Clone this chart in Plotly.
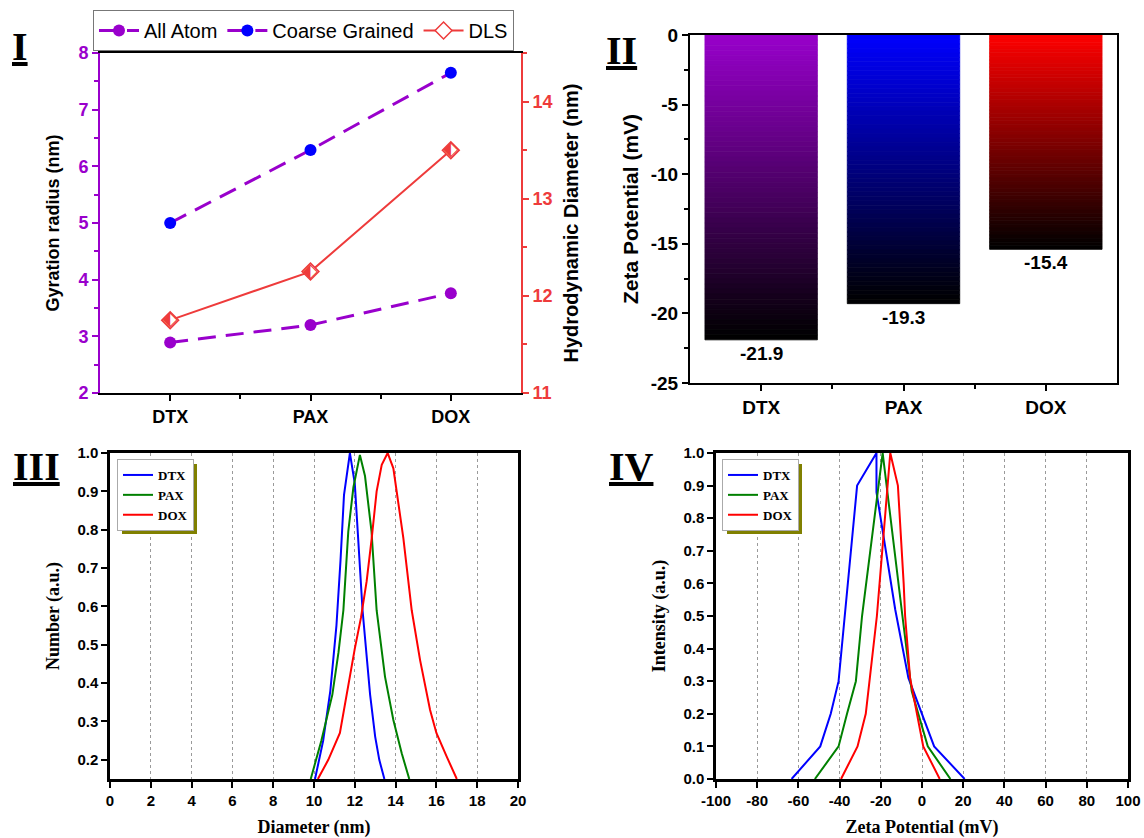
import plotly.graph_objects as go

W, H = 1144, 838
SANS = "Liberation Sans, Arial, sans-serif"
SERIF = "Liberation Serif, Times New Roman, serif"
PURPLE = "#9900CC"
BLUE = "#0000FF"
RED_DLS = "#EE3B3B"

# ---------------- data ----------------
categories = ["DTX", "PAX", "DOX"]
gyration_all_atom = [2.89, 3.20, 3.76]
gyration_coarse = [5.00, 6.29, 7.65]
dls_diameter = [11.75, 12.25, 13.50]
zeta_potential = [-21.9, -19.3, -15.4]
bar_top_colors = [(153, 0, 204), (0, 0, 255), (255, 0, 0)]

# Panel III: number distribution vs diameter
dia_dtx_x = [10.05, 10.45, 10.8, 11.1, 11.3, 11.47, 11.76, 12.0, 12.38, 12.75, 13.0, 13.2, 13.45]
dia_dtx_y = [0.15, 0.25, 0.38, 0.55, 0.72, 0.89, 1.0, 0.92, 0.59, 0.37, 0.26, 0.2, 0.15]
dia_pax_x = [9.84, 10.36, 10.9, 11.2, 11.44, 11.68, 11.93, 12.25, 12.5, 12.82, 13.07, 13.48, 13.89, 14.3, 14.67]
dia_pax_y = [0.15, 0.25, 0.37, 0.48, 0.59, 0.795, 0.91, 0.995, 0.94, 0.795, 0.59, 0.417, 0.304, 0.217, 0.15]
dia_dox_x = [10.19, 10.7, 11.27, 11.6, 12.0, 12.3, 12.58, 12.83, 13.07, 13.32, 13.61, 13.89, 14.05,
             14.38, 14.79, 15.2, 15.69, 16.0, 16.5, 17.0]
dia_dox_y = [0.15, 0.2, 0.27, 0.373, 0.49, 0.57, 0.665, 0.778, 0.9, 0.969, 1.0, 0.96, 0.9,
             0.778, 0.59, 0.46, 0.33, 0.27, 0.209, 0.15]

# Panel IV: intensity vs zeta potential
zp_dtx_x = [-63.3, -49.4, -44.3, -40.5, -31.5, -22.1, -22.1, -13.0, -6.6, 0.0, 5.9, 20.7]
zp_dtx_y = [0.0, 0.1, 0.2, 0.3, 0.9, 1.0, 0.88, 0.52, 0.31, 0.2, 0.1, 0.0]
zp_pax_x = [-52.0, -40.5, -36.4, -32.1, -29.1, -19.1, -9.5, -5.0, 2.8, 13.8]
zp_pax_y = [0.0, 0.1, 0.2, 0.3, 0.5, 1.0, 0.5, 0.27, 0.1, 0.0]
zp_dox_x = [-39.3, -31.3, -27.3, -21.9, -15.4, -11.7, -8.9, -8.2, -5.8, 0.6, 8.6]
zp_dox_y = [0.0, 0.1, 0.2, 0.5, 1.0, 0.9, 0.6, 0.5, 0.31, 0.1, 0.0]

zeta_ticks = [0, -5, -10, -15, -20, -25]
zp_axis_ticks = [-100, -80, -60, -40, -20, 0, 20, 40, 60, 80, 100]

idx = list(range(len(categories)))


def dx(a, b):
    return [a / W, b / W]


def dy(top, bottom):
    return [1 - bottom / H, 1 - top / H]


fig = go.Figure()

# ---------------- Panel I ----------------
fig.add_trace(go.Scatter(x=idx, y=gyration_all_atom, mode="lines+markers", name="All Atom",
                         line=dict(color=PURPLE, width=3, dash="18px,10px"),
                         marker=dict(color=PURPLE, size=12),
                         xaxis="x", yaxis="y", legend="legend"))
fig.add_trace(go.Scatter(x=idx, y=gyration_coarse, mode="lines+markers", name="Coarse Grained",
                         line=dict(color=PURPLE, width=3, dash="18px,10px"),
                         marker=dict(color=BLUE, size=12),
                         xaxis="x", yaxis="y", legend="legend"))
fig.add_trace(go.Scatter(x=idx, y=dls_diameter, mode="lines+markers", name="DLS",
                         line=dict(color=RED_DLS, width=2),
                         marker=dict(symbol="diamond", color="white", size=13,
                                     line=dict(color=RED_DLS, width=1.5)),
                         xaxis="x", yaxis="y2", legend="legend"))
fig.add_trace(go.Scatter(x=idx, y=dls_diameter, mode="text", text=["\u2b16"] * len(idx),
                         textposition="middle center",
                         textfont=dict(family="DejaVu Sans", size=20, color=RED_DLS),
                         xaxis="x", yaxis="y2", showlegend=False, hoverinfo="skip"))

# ---------------- Panel II (gradient bars) ----------------
N = 60
for i, v in enumerate(zeta_potential):
    tc = bar_top_colors[i]
    cols = []
    for k in range(N):
        f = 1 - (k + 0.5) / N
        cols.append("rgb(%d,%d,%d)" % (tc[0] * f, tc[1] * f, tc[2] * f))
    fig.add_trace(go.Bar(x=[idx[i]] * N, y=[v / N] * N, base=[v * k / N for k in range(N)],
                         width=0.79, marker=dict(color=cols, line=dict(width=0.8, color=cols)),
                         xaxis="x2", yaxis="y3", showlegend=False, hoverinfo="skip"))
for i, v in enumerate(zeta_potential):
    fig.add_annotation(x=idx[i], y=v, xref="x2", yref="y3", text="%.1f" % v, showarrow=False,
                       xanchor="center", yanchor="top", yshift=-1,
                       font=dict(family=SANS, size=19, color="black", weight="bold"))

# ---------------- Panel III ----------------
for nm, xs, ys, c in [("DTX", dia_dtx_x, dia_dtx_y, "#0000FF"),
                      ("PAX", dia_pax_x, dia_pax_y, "#008000"),
                      ("DOX", dia_dox_x, dia_dox_y, "#FF0000")]:
    fig.add_trace(go.Scatter(x=xs, y=ys, mode="lines", name=nm, line=dict(color=c, width=2),
                             xaxis="x3", yaxis="y4", legend="legend2"))

# ---------------- Panel IV ----------------
for nm, xs, ys, c in [("DTX", zp_dtx_x, zp_dtx_y, "#0000FF"),
                      ("PAX", zp_pax_x, zp_pax_y, "#008000"),
                      ("DOX", zp_dox_x, zp_dox_y, "#FF0000")]:
    fig.add_trace(go.Scatter(x=xs, y=ys, mode="lines", name=nm, line=dict(color=c, width=2),
                             xaxis="x4", yaxis="y5", legend="legend3"))

tick_sans = lambda s, c="black": dict(family=SANS, size=s, color=c, weight="bold")

base_axis = dict(showline=True, linewidth=2, linecolor="black", ticks="outside", ticklen=6,
                 tickwidth=2, tickcolor="black", showgrid=False, zeroline=False, automargin=False)

fig.update_layout(
    width=W, height=H, margin=dict(l=0, r=0, t=0, b=0, autoexpand=False),
    paper_bgcolor="white", plot_bgcolor="white", barmode="overlay",
    # Panel I
    xaxis=dict(base_axis, domain=dx(100, 521), range=[-0.5, 2.5], tickvals=idx, ticktext=categories,
               mirror=True, anchor="y", tickfont=tick_sans(18),
               minor=dict(tickvals=[0.5, 1.5], ticks="outside", ticklen=4, tickwidth=2, tickcolor="black")),
    yaxis=dict(base_axis, domain=dy(53, 393), range=[2, 8], dtick=1, anchor="x",
               linecolor=PURPLE, tickcolor=PURPLE, tickfont=tick_sans(18, PURPLE),
               minor=dict(dtick=0.5, ticks="outside", ticklen=4, tickwidth=2, tickcolor=PURPLE),
               title=dict(text="Gyration radius (nm)", standoff=14,
                          font=dict(family=SANS, size=18, color="black", weight="bold"))),
    yaxis2=dict(base_axis, overlaying="y", side="right", range=[11, 14.5], tickvals=[11, 12, 13, 14],
                anchor="x", linecolor=RED_DLS, tickcolor=RED_DLS, tickfont=tick_sans(18, RED_DLS),
                minor=dict(dtick=0.5, ticks="outside", ticklen=4, tickwidth=2, tickcolor=RED_DLS),
                title=dict(text="Hydrodynamic Diameter (nm)", standoff=12,
                           font=dict(family=SANS, size=20, color="black", weight="bold"))),
    # Panel II
    xaxis2=dict(base_axis, domain=dx(690, 1117), range=[-0.5, 2.5], tickvals=idx, ticktext=categories,
                mirror=True, anchor="y3", tickfont=tick_sans(19),
                minor=dict(tickvals=[0.5, 1.5], ticks="outside", ticklen=4, tickwidth=2, tickcolor="black")),
    yaxis3=dict(base_axis, domain=dy(35, 383), range=[-25, 0], tickvals=zeta_ticks,
                ticktext=[str(t) for t in zeta_ticks], anchor="x2", mirror=True,
                tickfont=tick_sans(19),
                minor=dict(dtick=2.5, ticks="outside", ticklen=4, tickwidth=2, tickcolor="black"),
                title=dict(text="Zeta Potential (mV)", standoff=6,
                           font=dict(family=SANS, size=21, color="black", weight="bold"))),
    # Panel III
    xaxis3=dict(base_axis, domain=dx(110, 518), range=[0, 20], dtick=2, anchor="y4", mirror=True,
                linewidth=2.5, tickfont=tick_sans(15), showgrid=True, gridcolor="#9a9a9a",
                griddash="dot", gridwidth=1,
                title=dict(text="Diameter (nm)", standoff=14,
                           font=dict(family=SERIF, size=18, color="black", weight="bold"))),
    yaxis4=dict(base_axis, domain=dy(453, 779), range=[0.15, 1.0],
                tickvals=[0.2, 0.3, 0.4, 0.5, 0.6, 0.7, 0.8, 0.9, 1.0], tickformat=".1f",
                anchor="x3", mirror=True, linewidth=2.5, tickfont=tick_sans(15),
                title=dict(text="Number (a.u.)", standoff=14,
                           font=dict(family=SERIF, size=18, color="black", weight="bold"))),
    # Panel IV
    xaxis4=dict(base_axis, domain=dx(716, 1128), range=[-100, 100], tickvals=zp_axis_ticks,
                ticktext=[str(t) for t in zp_axis_ticks], anchor="y5", mirror=True,
                linewidth=2.5, tickfont=tick_sans(15), showgrid=True, gridcolor="#9a9a9a",
                griddash="dot", gridwidth=1,
                title=dict(text="Zeta Potential (mV)", standoff=14,
                           font=dict(family=SERIF, size=18, color="black", weight="bold"))),
    yaxis5=dict(base_axis, domain=dy(453, 779), range=[0, 1.0], dtick=0.1, tickformat=".1f",
                anchor="x4", mirror=True, linewidth=2.5, tickfont=tick_sans(15),
                title=dict(text="Intensity (a.u.)", standoff=14,
                           font=dict(family=SERIF, size=18, color="black", weight="bold"))),
    legend=dict(x=93 / W, y=1 - 10 / H, xanchor="left", yanchor="top", orientation="h",
                bgcolor="white", bordercolor="#777", borderwidth=1, itemwidth=40,
                font=dict(family=SANS, size=20, color="black")),
    legend2=dict(x=117 / W, y=1 - 459 / H, xanchor="left", yanchor="top", orientation="v",
                 bgcolor="white", bordercolor="#aaa", borderwidth=1, itemwidth=30, tracegroupgap=0,
                 font=dict(family=SERIF, size=13, color="black", weight="bold")),
    legend3=dict(x=722 / W, y=1 - 459 / H, xanchor="left", yanchor="top", orientation="v",
                 bgcolor="white", bordercolor="#aaa", borderwidth=1, itemwidth=30, tracegroupgap=0,
                 font=dict(family=SERIF, size=13, color="black", weight="bold")),
)

# legend drop shadows (decorative)
for (x0, x1) in [(122, 197), (727, 802)]:
    fig.add_shape(type="rect", xref="paper", yref="paper", x0=x0 / W, x1=x1 / W,
                  y0=1 - 534 / H, y1=1 - 464 / H, fillcolor="#808000", line=dict(width=0), layer="above")

# panel labels
for txt, x, y in [("I", 20, 46), ("II", 621, 51), ("III", 36, 466), ("IV", 631, 466)]:
    fig.add_annotation(text="<b><u>%s</u></b>" % txt, x=x / W, y=1 - y / H, xref="paper", yref="paper",
                       xanchor="center", yanchor="middle", showarrow=False,
                       font=dict(family=SERIF, size=40, color="black"))

fig.write_html("out.html", config={"displayModeBar": False},
               post_script="document.body.style.margin='0';")
